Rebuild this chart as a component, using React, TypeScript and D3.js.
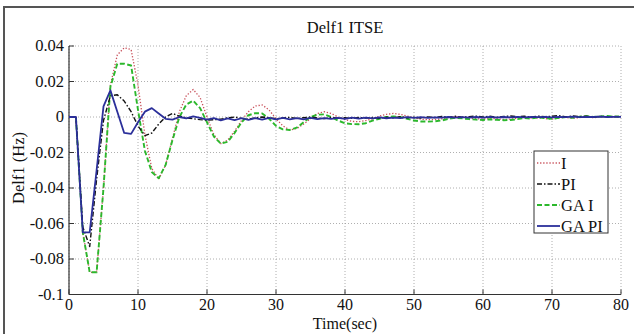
import React from "react";
import * as d3 from "d3";

const title = "Delf1 ITSE";
const xLabel = "Time(sec)";
const yLabel = "Delf1 (Hz)";
const xTicks = [0, 10, 20, 30, 40, 50, 60, 70, 80];
const yTicks = [0.04, 0.02, 0, -0.02, -0.04, -0.06, -0.08, -0.1];
const yTickLabels = ["0.04", "0.02", "0", "-0.02", "-0.04", "-0.06", "-0.08", "-0.1"];
const time = d3.range(0, 81);

const seriesI = [0,0,-0.065,-0.0875,-0.0875,-0.04,0.018,0.035,0.039,0.038,
  0.018,-0.01,-0.029,-0.035,-0.027,-0.012,0.003,0.012,0.0155,0.011,
  0.0,-0.01,-0.015,-0.013,-0.008,-0.002,0.003,0.0062,0.0068,0.004,
  -0.001,-0.005,-0.0073,-0.0065,-0.004,-0.001,0.002,0.003,0.002,0.0,
  -0.0015,-0.0025,-0.0026,-0.002,-0.001,0.0005,0.0015,0.002,0.0015,0.0005,
  -0.0005,-0.0012,-0.0015,-0.0015,-0.001,-0.0003,0.0002,0.0,-0.0006,-0.001,
  -0.0012,-0.0008,-0.001,-0.0014,-0.0012,-0.0007,-0.0002,-0.0006,-0.0004,-0.0009,
  -0.0012,-0.0005,-0.0002,-0.0008,-0.0003,0.0,-0.0004,0.0,0.0003,0.0,0.0002];

const seriesPI = [0,0,-0.062,-0.073,-0.035,-0.002,0.012,0.0125,0.009,0.003,
  -0.005,-0.0105,-0.009,-0.004,0.0,0.002,0.0005,-0.0005,-0.001,-0.0015,
  -0.0018,-0.0015,-0.0012,-0.0005,0.0,-0.0008,-0.0012,-0.0005,0.0,-0.0004,
  -0.001,-0.0006,-0.0002,-0.0008,-0.0004,0.0,-0.0006,-0.0009,-0.0003,-0.0007,
  -0.0004,-0.0008,-0.0002,-0.0006,-0.0003,-0.0007,-0.0001,-0.0005,0.0002,-0.0004,
  -0.0001,-0.0006,0.0001,-0.0003,0.0003,-0.0002,0.0004,-0.0001,0.0002,0.0005,
  0.0,0.0004,-0.0001,0.0003,0.0006,0.0001,0.0004,0.0,0.0005,0.0002,
  0.0004,0.0008,0.0001,0.0006,0.0002,0.0005,0.0,0.0004,0.0001,0.0003,0.0002];

const seriesGAI = [0,0,-0.065,-0.0875,-0.0875,-0.04,0.017,0.03,0.03,0.029,
  0.004,-0.019,-0.031,-0.0345,-0.027,-0.013,0.0,0.007,0.0092,0.005,
  -0.003,-0.011,-0.015,-0.014,-0.009,-0.003,0.001,0.0022,0.002,-0.001,
  -0.005,-0.007,-0.0073,-0.006,-0.003,0.0,0.0013,0.0015,0.0,-0.002,
  -0.0035,-0.004,-0.0041,-0.0035,-0.002,-0.001,0.0,0.0003,0.0,-0.001,
  -0.002,-0.0025,-0.0026,-0.0024,-0.002,-0.001,-0.0005,-0.0008,-0.0012,-0.0015,
  -0.0017,-0.0013,-0.0016,-0.0018,-0.0017,-0.0012,-0.0006,-0.0009,-0.0002,-0.0006,
  -0.001,-0.0005,0.0,-0.0004,0.0002,0.0005,0.0,0.0003,0.0006,0.0002,0.0003];

const seriesGAPI = [0,0,-0.065,-0.065,-0.03,0.006,0.015,0.003,-0.009,-0.0095,
  -0.003,0.003,0.005,0.002,-0.001,-0.0015,0.0,-0.0008,0.0003,-0.0005,
  -0.0015,-0.0006,-0.0019,-0.0008,-0.0018,-0.0007,-0.0016,-0.0006,-0.0015,-0.0005,
  -0.0014,-0.0005,-0.0013,-0.0006,-0.0013,-0.0005,-0.0012,-0.0006,-0.0011,-0.0005,
  -0.001,-0.0004,-0.0009,-0.0004,-0.0008,-0.0002,-0.0007,-0.0003,-0.0006,-0.0001,
  -0.0005,-0.0001,-0.0005,-0.0002,-0.0004,0.0,-0.0004,-0.0001,-0.0003,0.0,
  -0.0003,0.0001,-0.0003,0.0,-0.0002,0.0001,-0.0002,0.0,-0.0001,0.0001,
  -0.0002,0.0001,-0.0001,0.0002,-0.0001,0.0001,0.0,0.0002,0.0,0.0001,0.0001];

const seriesNames = ["I", "PI", "GA I", "GA PI"];
const seriesData = [seriesI, seriesPI, seriesGAI, seriesGAPI];

const styles = [
  { color: "#c8505a", width: 1.3, dash: "1.3,1.8" },
  { color: "#111111", width: 1.4, dash: "5,2,1.5,2" },
  { color: "#2cb82c", width: 1.9, dash: "5,2.5" },
  { color: "#2b2f9a", width: 1.8, dash: "none" },
];

export default function App() {
  const W = 634, H = 334;
  const x = d3.scaleLinear().domain([0, 80]).range([69, 621]);
  const y = d3.scaleLinear().domain([-0.1, 0.04]).range([294.5, 46]);
  const line = d3.line<number>().x((_, i) => x(time[i])).y((d) => y(d));
  const font = "'Liberation Serif', 'Times New Roman', serif";
  const grid = "#9a9a9a";
  const drawOrder = [0, 2, 1, 3];
  const legX = 534, legY = 151, legW = 74, legH = 82;
  const fs = 16.5;
  return (
    <svg width={W} height={H} style={{ position: "absolute", left: 0, top: 0, background: "#fff" }} fontFamily={font}>
      <rect x={0} y={0} width={W} height={H} fill="#fff" />
      <rect x={4} y={7} width={W + 10} height={H + 10} fill="none" stroke="#555" strokeWidth={2} />
      {xTicks.map((t) => (
        <line key={"gx" + t} x1={x(t)} x2={x(t)} y1={y(0.04)} y2={y(-0.1)} stroke={grid} strokeWidth={0.8} strokeDasharray="1,2" />
      ))}
      {yTicks.map((t) => (
        <line key={"gy" + t} x1={x(0)} x2={x(80)} y1={y(t)} y2={y(t)} stroke={grid} strokeWidth={0.8} strokeDasharray="1,2" />
      ))}
      <line x1={x(0)} x2={x(0)} y1={y(0.04)} y2={y(-0.1)} stroke="#333" strokeWidth={1.2} />
      <line x1={x(0)} x2={x(80)} y1={y(-0.1)} y2={y(-0.1)} stroke="#333" strokeWidth={1.2} />
      {xTicks.map((t) => (
        <g key={"xt" + t}>
          <line x1={x(t)} x2={x(t)} y1={y(-0.1)} y2={y(-0.1) - 5} stroke="#333" strokeWidth={1} />
          <text x={x(t)} y={310} textAnchor="middle" fontSize={16} fill="#111">{t}</text>
        </g>
      ))}
      {yTicks.map((t, i) => (
        <g key={"yt" + t}>
          <line x1={x(0)} x2={x(0) + 5} y1={y(t)} y2={y(t)} stroke="#333" strokeWidth={1} />
          <text x={64} y={y(t) + 5} textAnchor="end" fontSize={fs} fill="#111">{yTickLabels[i]}</text>
        </g>
      ))}
      {drawOrder.map((k) => (
        <path key={"s" + k} d={line(seriesData[k]) || ""} fill="none" stroke={styles[k].color}
          strokeWidth={styles[k].width} strokeDasharray={styles[k].dash} strokeLinejoin="round" />
      ))}
      <text x={345} y={33} textAnchor="middle" fontSize={fs} fill="#111">{title}</text>
      <text x={345} y={328.5} textAnchor="middle" fontSize={16} fill="#111">{xLabel}</text>
      <text transform={`translate(24,${168}) rotate(-90)`} textAnchor="middle" fontSize={fs} fill="#111">{yLabel}</text>
      <rect x={legX} y={legY} width={legW} height={legH} fill="#fff" stroke="#333" strokeWidth={1} />
      {seriesNames.map((n, i) => {
        const ly = legY + 12 + i * 21;
        return (
          <g key={"lg" + n}>
            <line x1={legX + 3} x2={legX + 26} y1={ly} y2={ly} stroke={styles[i].color}
              strokeWidth={styles[i].width} strokeDasharray={styles[i].dash} />
            <text x={legX + 27} y={ly + 5.5} fontSize={fs} fill="#111">{n}</text>
          </g>
        );
      })}
    </svg>
  );
}
